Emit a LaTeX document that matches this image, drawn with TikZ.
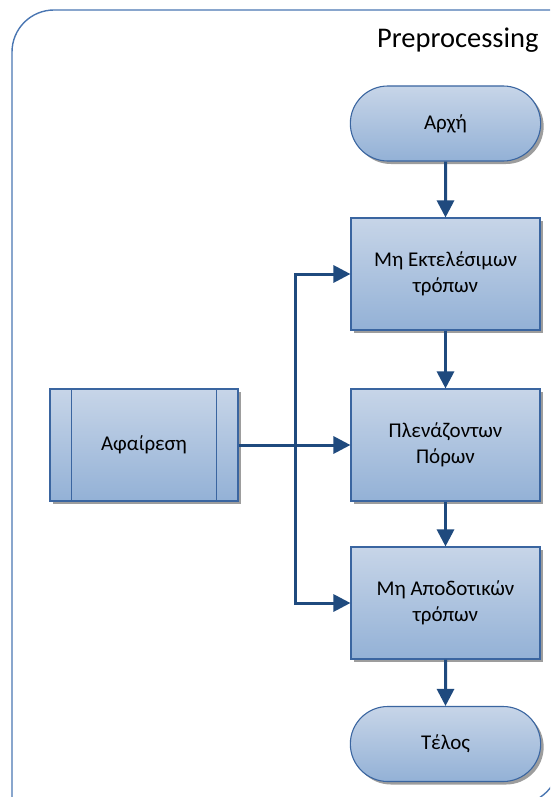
\documentclass[tikz,border=0pt]{standalone}
\usepackage{fontspec}
\setmainfont{Carlito}
\usetikzlibrary{shapes.misc,arrows.meta,shadows}

\definecolor{boxtop}{HTML}{C7D5E8}
\definecolor{boxbot}{HTML}{93B1D6}
\definecolor{boxline}{HTML}{3A65A0}
\definecolor{flow}{HTML}{1F4A7E}
\definecolor{framecol}{HTML}{4A76B2}

\tikzset{
  boxbase/.style={draw=boxline, line width=1.1pt, top color=boxtop, bottom color=boxbot,
    minimum width=189pt, align=center, font=\fontsize{21}{26}\selectfont,
    drop shadow={shadow xshift=3pt, shadow yshift=-3pt, fill=black!45, opacity=0.85}},
  procbox/.style={boxbase, rectangle, minimum height=112pt},
  termbox/.style={boxbase, rounded rectangle, minimum width=197pt, minimum height=75pt},
  flowline/.style={draw=flow, line width=3pt},
  flowarrow/.style={flowline, -{Triangle[length=17pt,width=17pt]}},
  frameline/.style={draw=framecol, line width=1.4pt}
}

\begin{document}
\begin{tikzpicture}[x=1pt,y=-1pt]
\useasboundingbox (0,0) rectangle (550,797);

% outer container with rounded top-left and bottom-right corners
\begin{scope}
  \clip (0,0) rectangle (550,797);
  \draw[frameline] (12,52) .. controls (12,28.8) and (30.8,10) .. (54,10)
     -- (560,10) -- (560,760) .. controls (560,784.8) and (539.8,805) .. (515,805)
     -- (12,805) -- cycle;
\end{scope}

\node[anchor=base east, font=\fontsize{28.5}{33}\selectfont] (title) at (542,48) {Preprocessing};

\node[termbox] (start) at (445.5,123.5) {Αρχή};
\node[procbox] (exec)  at (445.5,274) {Μη Εκτελέσιμων\\τρόπων};
\node[procbox] (redun) at (445.5,445) {Πλενάζοντων\\Πόρων};
\node[procbox] (ineff) at (445.5,603) {Μη Αποδοτικών\\τρόπων};
\node[termbox] (stop)  at (445.5,744) {Τέλος};

\node[procbox, minimum width=188pt] (remove) at (144,445) {Αφαίρεση};
\draw[boxline, line width=1.1pt] ([xshift=22pt]remove.north west) -- ([xshift=22pt]remove.south west);
\draw[boxline, line width=1.1pt] ([xshift=-22pt]remove.north east) -- ([xshift=-22pt]remove.south east);

% main sequence
\draw[flowarrow] (start) -- (exec);
\draw[flowarrow] (exec) -- (redun);
\draw[flowarrow] (redun) -- (ineff);
\draw[flowarrow] (ineff) -- (stop);

% branches from the removal step
\coordinate (bus) at (295,445);
\draw[flowarrow] (remove.east) -- (redun.west);
\draw[flowarrow] (bus) |- (exec.west);
\draw[flowarrow] (bus) |- (ineff.west);
\end{tikzpicture}
\end{document}
